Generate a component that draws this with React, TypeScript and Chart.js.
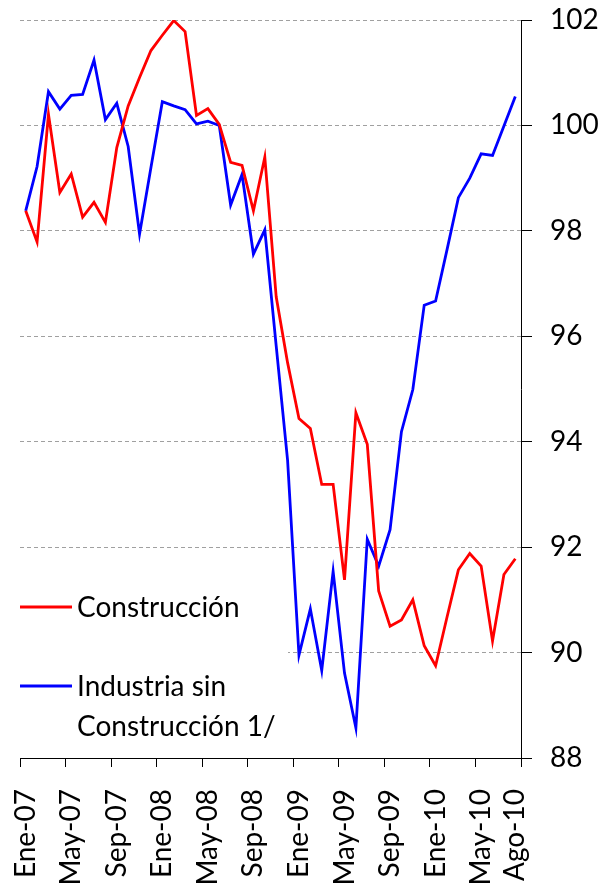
import React, { useEffect, useRef } from "react";
import { Chart, registerables } from "chart.js";

Chart.register(...registerables);

const categories = [
  "Ene-07", "Feb-07", "Mar-07", "Abr-07", "May-07", "Jun-07", "Jul-07", "Ago-07", "Sep-07", "Oct-07", "Nov-07", "Dic-07",
  "Ene-08", "Feb-08", "Mar-08", "Abr-08", "May-08", "Jun-08", "Jul-08", "Ago-08", "Sep-08", "Oct-08", "Nov-08", "Dic-08",
  "Ene-09", "Feb-09", "Mar-09", "Abr-09", "May-09", "Jun-09", "Jul-09", "Ago-09", "Sep-09", "Oct-09", "Nov-09", "Dic-09",
  "Ene-10", "Feb-10", "Mar-10", "Abr-10", "May-10", "Jun-10", "Jul-10", "Ago-10",
];

const shownLabels = [
  "Ene-07", "May-07", "Sep-07", "Ene-08", "May-08", "Sep-08",
  "Ene-09", "May-09", "Sep-09", "Ene-10", "May-10", "Ago-10",
];

const construccion = [
  98.38, 97.79, 100.21, 98.73, 99.08, 98.26, 98.54, 98.16, 99.58, 100.37, 100.91, 101.42,
  101.71, 101.99, 101.78, 100.19, 100.32, 100.02, 99.30, 99.24, 98.38, 99.40, 96.75, 95.50,
  94.44, 94.25, 93.19, 93.19, 91.38, 94.55, 93.95, 91.17, 90.50, 90.62, 91.00, 90.13,
  89.75, 90.67, 91.57, 91.88, 91.64, 90.22, 91.48, 91.78,
];

const industriaSinConstruccion = [
  98.38, 99.22, 100.64, 100.31, 100.57, 100.59, 101.24, 100.11, 100.42, 99.60, 97.94, 99.20,
  100.45, 100.37, 100.30, 100.03, 100.08, 100.00, 98.49, 99.07, 97.56, 98.02, 95.82, 93.65,
  89.95, 90.83, 89.66, 91.54, 89.61, 88.57, 92.15, 91.64, 92.33, 94.19, 94.99, 96.59,
  96.67, 97.64, 98.63, 99.00, 99.46, 99.43, 99.99, 100.55,
];

const yTicks = [88, 90, 92, 94, 96, 98, 100, 102];

const seriesNames = ["Construcción", ["Industria sin", "Construcción 1/"]];
const seriesColors = ["#FF0000", "#0000FF"];

const FONT = "Lato";
const FONT_SIZE = 28;
const LINE_W = 2.8;

const legendPlugin = {
  id: "insideLegend",
  beforeDatasetsDraw(chart: any) {
    const { ctx, chartArea } = chart;
    const left = chartArea.left;
    ctx.save();
    ctx.fillStyle = "#FFFFFF";
    ctx.fillRect(left, chartArea.bottom - 180, 268, 170);
    ctx.restore();
  },
  afterDatasetsDraw(chart: any) {
    const { ctx, chartArea } = chart;
    const left = chartArea.left;
    const b = chartArea.bottom;
    ctx.save();
    ctx.font = `${FONT_SIZE}px ${FONT}`;
    ctx.fillStyle = "#000";
    ctx.textBaseline = "alphabetic";
    ctx.textAlign = "left";
    const entries = [
      { lineY: b - 151, baselines: [b - 141] },
      { lineY: b - 72, baselines: [b - 62, b - 22] },
    ];
    entries.forEach((e, i) => {
      ctx.strokeStyle = seriesColors[i];
      ctx.lineWidth = LINE_W;
      ctx.beginPath();
      ctx.moveTo(left, e.lineY);
      ctx.lineTo(left + 52, e.lineY);
      ctx.stroke();
      const name = seriesNames[i];
      const lines = Array.isArray(name) ? name : [name];
      lines.forEach((t, j) => {
        ctx.fillText(t, left + 57, e.baselines[j]);
      });
    });
    ctx.restore();
  },
};

export default function App() {
  const ref = useRef<HTMLCanvasElement | null>(null);

  useEffect(() => {
    if (!ref.current) return;
    const chart = new Chart(ref.current, {
      type: "line",
      data: {
        labels: categories,
        datasets: [
          {
            label: "Construcción",
            data: construccion,
            borderColor: seriesColors[0],
            backgroundColor: seriesColors[0],
            borderWidth: LINE_W,
            pointRadius: 0,
            tension: 0,
          },
          {
            label: "Industria sin Construcción 1/",
            data: industriaSinConstruccion,
            borderColor: seriesColors[1],
            backgroundColor: seriesColors[1],
            borderWidth: LINE_W,
            pointRadius: 0,
            tension: 0,
          },
        ],
      },
      options: {
        animation: false,
        responsive: false,
        layout: { padding: { left: 20, top: 20, right: 0, bottom: 0 } },
        plugins: {
          legend: { display: false },
          tooltip: { enabled: false },
        },
        scales: {
          x: {
            type: "category",
            offset: true,
            grid: {
              offset: true,
              drawOnChartArea: false,
              drawTicks: true,
              tickLength: 9,
              tickWidth: 1,
              tickColor: (c: any) =>
                c.index === undefined || c.index % 4 === 0 ? "#000000" : "rgba(0,0,0,0)",
              color: "rgba(0,0,0,0)",
            },
            border: { display: true, color: "#000000", width: 1 },
            ticks: {
              autoSkip: false,
              minRotation: 90,
              maxRotation: 90,
              padding: 22,
              color: "#000000",
              font: { family: FONT, size: FONT_SIZE },
              callback: function (this: any, value: any) {
                const lab = this.getLabelForValue(value);
                return shownLabels.includes(lab) ? lab : "";
              },
            },
            afterFit: (scale: any) => {
              scale.height = 127;
              scale.paddingLeft = 0;
              scale.paddingRight = 0;
              scale.paddingTop = 0;
              scale.paddingBottom = 0;
            },
          },
          y: {
            position: "right",
            min: yTicks[0],
            max: yTicks[yTicks.length - 1],
            afterBuildTicks: (scale: any) => {
              scale.ticks = yTicks.map((v) => ({ value: v }));
            },
            grid: {
              color: "#A0A0A0",
              lineWidth: 1,
              drawTicks: true,
              tickLength: 11,
              tickColor: "#000000",
              tickBorderDash: [],
              tickWidth: 1,
            },
            border: { display: true, color: "#000000", width: 1, dash: [4, 3] },
            ticks: {
              padding: 18,
              color: "#000000",
              font: { family: FONT, size: FONT_SIZE },
            },
            afterFit: (scale: any) => {
              scale.width = 81;
              scale.paddingTop = 0;
              scale.paddingBottom = 0;
              scale.paddingLeft = 0;
              scale.paddingRight = 0;
            },
          },
        },
      },
      plugins: [legendPlugin],
    });
    return () => chart.destroy();
  }, []);

  return (
    <div style={{ position: "absolute", left: 0, top: 0, width: 602, height: 885, background: "#fff" }}>
      <canvas ref={ref} width={602} height={885} />
    </div>
  );
}
